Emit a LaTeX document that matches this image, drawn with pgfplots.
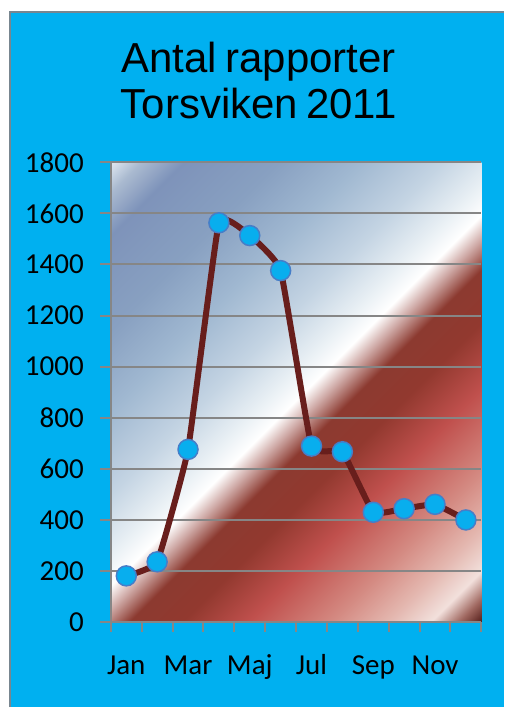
\documentclass[border=0pt]{standalone}
\usepackage{fontspec}
\setmainfont{Carlito}
\newfontfamily\arialfont{Liberation Sans}
\usepackage{pgfplots}
\pgfplotsset{compat=1.18}

\definecolor{bgblue}{RGB}{0,176,240}
\definecolor{bordergrey}{RGB}{120,134,144}
\definecolor{gridgrey}{RGB}{134,134,134}
\definecolor{linecol}{RGB}{104,30,28}
\definecolor{markfill}{RGB}{8,174,238}
\definecolor{markedge}{RGB}{70,126,200}

\definecolor{s0}{RGB}{220,228,238}
\definecolor{s1}{RGB}{170,186,208}
\definecolor{s2}{RGB}{126,147,186}
\definecolor{s3}{RGB}{136,160,193}
\definecolor{s4}{RGB}{160,184,209}
\definecolor{s5}{RGB}{196,212,227}
\definecolor{s6}{RGB}{232,239,244}
\definecolor{s7}{RGB}{255,255,255}
\definecolor{s8}{RGB}{201,160,156}
\definecolor{s9}{RGB}{140,58,48}
\definecolor{s10}{RGB}{146,57,47}
\definecolor{s11}{RGB}{192,80,77}
\definecolor{s12}{RGB}{212,138,130}
\definecolor{s13}{RGB}{228,184,176}
\definecolor{s14}{RGB}{242,224,220}
\definecolor{s15}{RGB}{160,104,96}
\definecolor{s16}{RGB}{90,36,32}

\pgfdeclarehorizontalshading{plotbg}{100bp}{%
color(0bp)=(s0); color(14.6bp)=(s0); color(17.0bp)=(s1); color(20.7bp)=(s2);
color(28.8bp)=(s3); color(35.8bp)=(s4); color(42.9bp)=(s5); color(47.9bp)=(s6);
color(50.7bp)=(s7); color(53.0bp)=(s8); color(55.4bp)=(s9); color(59.9bp)=(s10);
color(65.6bp)=(s11); color(72.7bp)=(s12); color(77.6bp)=(s13); color(81.2bp)=(s14);
color(83.6bp)=(s15); color(85.4bp)=(s16); color(100bp)=(s16)}

\begin{document}
\begin{tikzpicture}[x=1pt,y=1pt]
\fill[white] (0,0) rectangle (505,708);
\fill[bgblue] (10,0) rectangle (505,695.5);
\draw[bordergrey, line width=2pt] (10.5,0) -- (10.5,695.5) -- (505,695.5);
\node[anchor=north, align=center, inner sep=0pt,
      font=\arialfont\fontsize{42}{46}\selectfont] at (259,708-42)
      {Antal\hspace{0.2em}rapporter\\Torsviken\hspace{0.2em}2011};
\begin{axis}[
  at={(111pt,85pt)}, anchor=south west,
  scale only axis, width=371pt, height=460.5pt,
  xmin=0.5, xmax=12.5, ymin=0, ymax=1800,
  axis lines*=left,
  axis line style={gridgrey, line width=2pt},
  axis background/.style={shading=plotbg, shading angle=-45},
  ytick={0,200,...,1800},
  xtick={1,3,5,7,9,11},
  xticklabels={Jan,Mar,Maj,Jul,Sep,Nov},
  minor xtick={0.5,1.5,...,12.5},
  major x tick style={draw=none},
  tick align=outside,
  major tick length=11pt,
  minor tick length=10pt,
  every tick/.style={gridgrey, line width=2pt},
  ymajorgrids,
  major grid style={gridgrey, line width=2pt},
  /pgf/number format/assume math mode=true,
  /pgf/number format/1000 sep={},
  tick label style={font=\fontsize{29}{34}\selectfont, text=black},
  yticklabel style={anchor=east, inner sep=0pt, xshift=-16pt},
  xticklabel style={anchor=base, inner sep=0pt, yshift=-41pt},
  clip=false,
]
\addplot[color=linecol, line width=6pt, smooth, tension=0.2,
  mark=*, mark size=10pt,
  mark options={fill=markfill, draw=markedge, line width=1.5pt}]
  coordinates {
  (1,181) (2,236) (3,676) (4,1563) (5,1513) (6,1376)
  (7,689) (8,667) (9,430) (10,444) (11,461) (12,400)
  };
\end{axis}
\end{tikzpicture}
\end{document}
